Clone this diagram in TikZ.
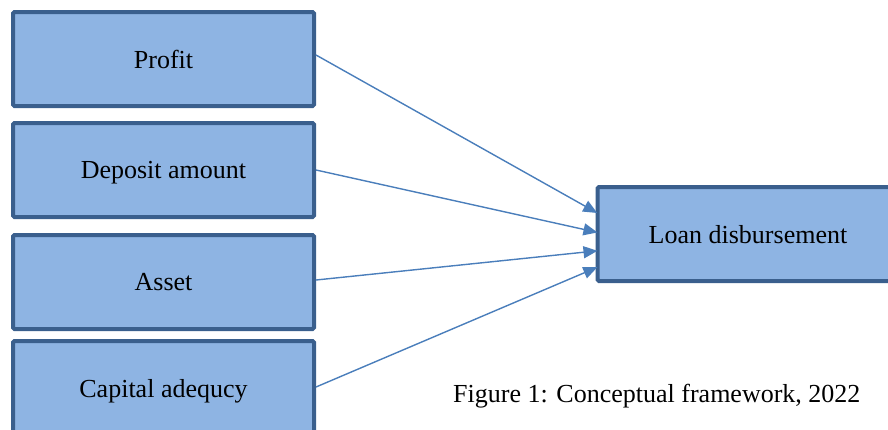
\documentclass[tikz,border=0pt]{standalone}
\usepackage{fontspec}
\setmainfont{Liberation Serif}
\usetikzlibrary{arrows.meta,positioning}
\definecolor{boxfill}{HTML}{8EB4E3}
\definecolor{boxline}{HTML}{3A5F8D}
\definecolor{arrline}{HTML}{4A7EBB}
\tikzset{
  >={Triangle[length=14pt,width=12pt]},
  factor/.style={draw=boxline, fill=boxfill, line width=4pt, rounded corners=1.5pt,
    minimum width=301pt, minimum height=94pt, align=center, inner sep=0pt,
    text depth=0pt, font=\fontsize{26}{30}\selectfont},
  arr/.style={->, draw=arrline, fill=arrline, line width=1.4pt, shorten >=-2pt},
  caption/.style={font=\fontsize{26}{30}\selectfont, anchor=base west, inner sep=0pt},
}
\begin{document}
\begin{tikzpicture}[x=1pt, y=-1pt]
  \useasboundingbox (0,0) rectangle (888,429);
  % independent variables
  \node[factor] (profit)  at (163.5,59)  {Profit};
  \node[factor] (deposit) at (163.5,170) {Deposit amount};
  \node[factor] (asset)   at (163.5,282) {Asset};
  \node[factor] (capital) at (163.5,388) {Capital adequcy};
  % dependent variable
  \node[factor] (loan) at (748,234) {Loan disbursement};
  % links
  \draw[arr] ([yshift=4pt]profit.east) -- ([yshift=22pt]loan.west);
  \draw[arr] (deposit.east) -- ([yshift=2pt]loan.west);
  \draw[arr] ([yshift=2pt]asset.east) -- ([yshift=-17pt]loan.west);
  \draw[arr] ([yshift=1pt]capital.east) -- ([yshift=-34pt]loan.west);
  \node[caption] (fig) at (453,402) {Figure 1: Conceptual framework, 2022};
\end{tikzpicture}
\end{document}
